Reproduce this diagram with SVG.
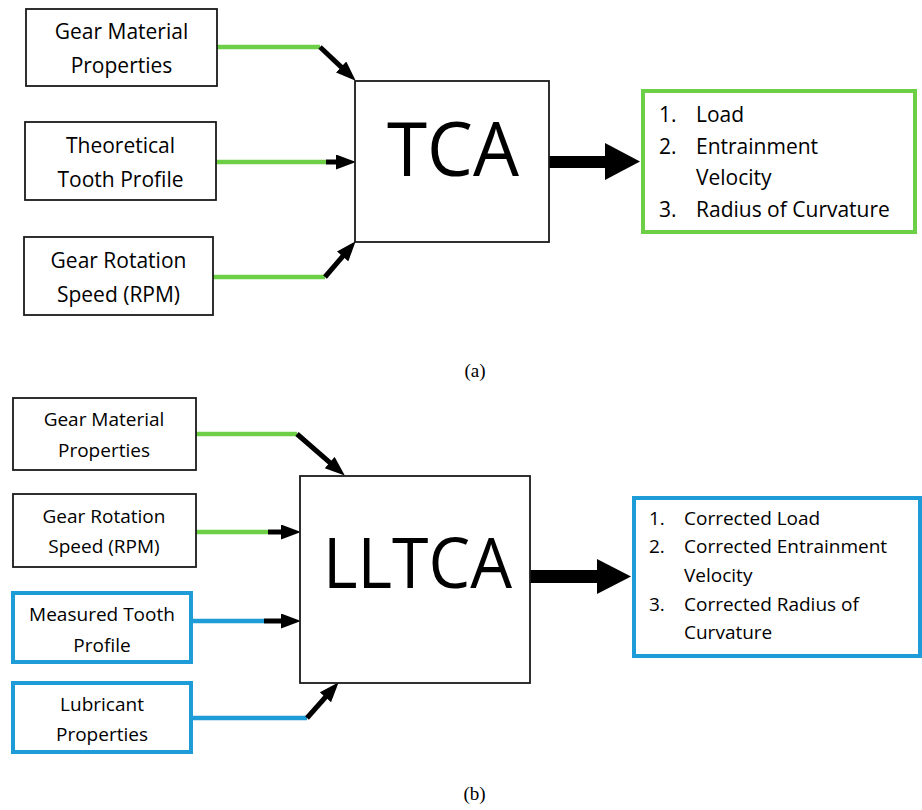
<svg xmlns="http://www.w3.org/2000/svg" width="922" height="810" viewBox="0 0 922 810">
<style>
.box{fill:#fff;stroke:#1a1a1a;stroke-width:1.8}
.bbox{fill:#fff;stroke:#1d9cd8;stroke-width:4}
.gbox{fill:#fff;stroke:#6ccf46;stroke-width:4}
.t{font-family:"Open Sans","Liberation Sans",sans-serif;fill:#000}
.c{text-anchor:middle}
.big{font-family:"Open Sans","Liberation Sans",sans-serif;fill:#000;text-anchor:middle}
.cap{font-family:"Liberation Serif","DejaVu Serif",serif;font-size:19px;fill:#000;text-anchor:middle}
.g{stroke:#6ccf46;stroke-width:4.5;fill:none}
.bl{stroke:#1d9cd8;stroke-width:4.5;fill:none}
.k{stroke:#000;stroke-width:5;fill:none}
</style>
<defs>
<marker id="ah" markerUnits="userSpaceOnUse" markerWidth="21" markerHeight="16" refX="9" refY="7.5" orient="auto">
<path d="M0,0 L20,7.5 L0,15 z" fill="#000"/>
</marker>
</defs>

<g id="connectors">
<path class="g" d="M217,47 H320"/>
<path class="k" d="M320,47 L347.7,73.1" marker-end="url(#ah)"/>
<path class="g" d="M216,162 H326"/>
<path class="k" d="M326,162 H345" marker-end="url(#ah)"/>
<path class="g" d="M213,277 H325"/>
<path class="k" d="M325,277 L348.5,249.6" marker-end="url(#ah)"/>
<rect x="549" y="156" width="58" height="12" fill="#000"/>
<path d="M605,143 L640,161.5 L605,180 z" fill="#000"/>

<path class="g" d="M195,434 H297"/>
<path class="k" d="M297,434 L336.5,468.4" marker-end="url(#ah)"/>
<path class="g" d="M195,532 H268"/>
<path class="k" d="M268,532 H290" marker-end="url(#ah)"/>
<path class="bl" d="M193,621 H264"/>
<path class="k" d="M264,621 H290" marker-end="url(#ah)"/>
<path class="bl" d="M193,718 H307"/>
<path class="k" d="M307,718 L331.4,690.5" marker-end="url(#ah)"/>
<rect x="530" y="570" width="69" height="13" fill="#000"/>
<path d="M597,559 L631,576.5 L597,594 z" fill="#000"/>
</g>

<g id="a-gear-material">
<rect class="box" x="26" y="9" width="191" height="77"/>
<text class="t c" x="121.5" y="39" font-size="21">Gear Material</text>
<text class="t c" x="121.5" y="73" font-size="21">Properties</text>
</g>
<g id="a-tooth-profile">
<rect class="box" x="25" y="122" width="191" height="78"/>
<text class="t c" x="120.5" y="153" font-size="21">Theoretical</text>
<text class="t c" x="120.5" y="187" font-size="21">Tooth Profile</text>
</g>
<g id="a-rotation">
<rect class="box" x="24" y="237" width="189" height="78"/>
<text class="t c" x="118.5" y="268" font-size="21">Gear Rotation</text>
<text class="t c" x="118.5" y="302" font-size="21">Speed (RPM)</text>
</g>
<g id="a-tca">
<rect class="box" x="355" y="81" width="194" height="161"/>
<text class="big" x="453" y="176" font-size="75" textLength="132" lengthAdjust="spacingAndGlyphs">TCA</text>
</g>
<g id="a-output">
<rect class="gbox" x="643" y="91" width="272" height="141"/>
<text class="t" x="659" y="122" font-size="21">1.</text>
<text class="t" x="696" y="122" font-size="21">Load</text>
<text class="t" x="659" y="154" font-size="21">2.</text>
<text class="t" x="696" y="154" font-size="21">Entrainment</text>
<text class="t" x="696" y="185" font-size="21">Velocity</text>
<text class="t" x="659" y="217" font-size="21">3.</text>
<text class="t" x="696" y="217" font-size="21">Radius of Curvature</text>
</g>
<text class="cap" x="475" y="377">(a)</text>

<g id="b-gear-material">
<rect class="box" x="13" y="398" width="183" height="72"/>
<text class="t c" x="104" y="426" font-size="19">Gear Material</text>
<text class="t c" x="104" y="457" font-size="19">Properties</text>
</g>
<g id="b-rotation">
<rect class="box" x="13" y="494" width="183" height="73"/>
<text class="t c" x="104" y="523" font-size="19">Gear Rotation</text>
<text class="t c" x="104" y="553" font-size="19">Speed (RPM)</text>
</g>
<g id="b-measured">
<rect class="bbox" x="13" y="593" width="178" height="69"/>
<text class="t c" x="102" y="621" font-size="19">Measured Tooth</text>
<text class="t c" x="102" y="652" font-size="19">Profile</text>
</g>
<g id="b-lubricant">
<rect class="bbox" x="13" y="683" width="178" height="69"/>
<text class="t c" x="102" y="711" font-size="19">Lubricant</text>
<text class="t c" x="102" y="741" font-size="19">Properties</text>
</g>
<g id="b-lltca">
<rect class="box" x="300" y="476" width="230" height="207"/>
<text class="big" x="417.5" y="588" font-size="70" textLength="189" lengthAdjust="spacingAndGlyphs">LLTCA</text>
</g>
<g id="b-output">
<rect class="bbox" x="634" y="498" width="286" height="158"/>
<text class="t" x="649" y="525" font-size="19">1.</text>
<text class="t" x="684" y="525" font-size="19">Corrected Load</text>
<text class="t" x="649" y="553" font-size="19">2.</text>
<text class="t" x="684" y="553" font-size="19">Corrected Entrainment</text>
<text class="t" x="684" y="582" font-size="19">Velocity</text>
<text class="t" x="649" y="611" font-size="19">3.</text>
<text class="t" x="684" y="611" font-size="19">Corrected Radius of</text>
<text class="t" x="684" y="639" font-size="19">Curvature</text>
</g>
<text class="cap" x="474.5" y="800">(b)</text>
</svg>
